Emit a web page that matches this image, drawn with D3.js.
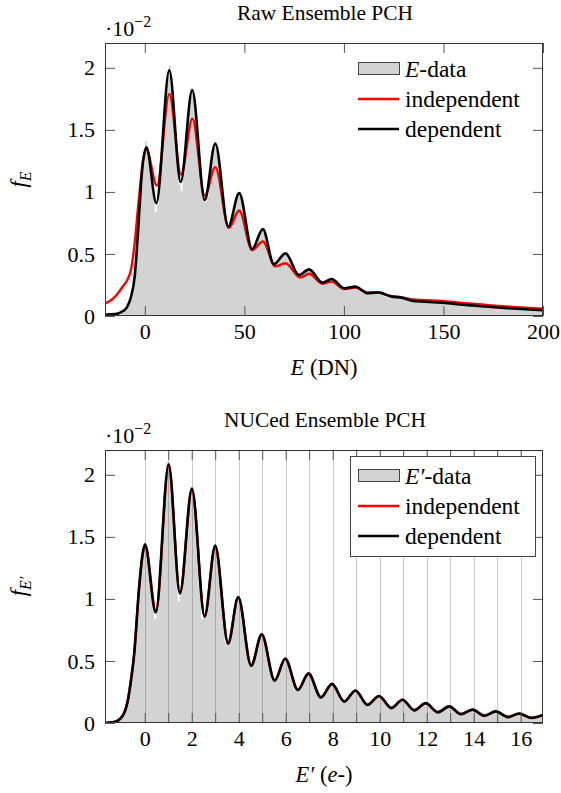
<!DOCTYPE html>
<html lang="en">
<head>
<meta charset="UTF-8">
<script src="https://d3js.org/d3.v7.min.js"></script>
<style>
  body { margin: 0; background: #fff; }
  svg { display: block; font-family: "Liberation Serif", "Times New Roman", serif; }
</style>
</head>
<body>
<svg id="chart" width="561" height="793"></svg>
<script>
// ---- data (values in units of 10^-2) ----
const yTicks = [0, 0.5, 1, 1.5, 2];
const rawXTicks = [0, 50, 100, 150, 200];
const nucXTicks = [0, 1, 2, 3, 4, 5, 6, 7, 8, 9, 10, 11, 12, 13, 14, 15, 16];
const nucXLabels = [0, 2, 4, 6, 8, 10, 12, 14, 16];

// raw histogram, 1 DN bins starting at -12
const rawBinStart = -12, rawBinWidth = 1;
const rawHist = [
  0.03, 0.04, 0.05, 0.07, 0.10, 0.15, 0.23, 0.36, 0.55, 0.80, 1.05, 1.24,
  1.41, 1.34, 1.24, 1.10, 0.98, 0.84, 0.90, 1.05, 1.28, 1.52,
  1.75, 1.93, 2.02, 1.92, 1.68, 1.42, 1.20, 1.06, 1.01, 1.15,
  1.36, 1.56, 1.72, 1.83, 1.80, 1.66, 1.46, 1.24, 1.06, 0.95,
  0.92, 0.96, 1.08, 1.23, 1.35, 1.40, 1.36, 1.24, 1.08, 0.93,
  0.80, 0.73, 0.71, 0.76, 0.84, 0.92, 0.98, 1.00, 0.97, 0.89,
  0.78, 0.67, 0.59, 0.55, 0.53, 0.57, 0.62, 0.67, 0.70, 0.70,
  0.67, 0.61, 0.55, 0.49, 0.44, 0.41, 0.43, 0.46, 0.49, 0.50,
  0.50, 0.49, 0.46, 0.42, 0.38, 0.35, 0.33, 0.32, 0.34, 0.36,
  0.37, 0.375, 0.37, 0.36, 0.34, 0.31, 0.29, 0.28, 0.27, 0.265,
  0.28, 0.29, 0.30, 0.30, 0.29, 0.27, 0.25, 0.24, 0.23, 0.22,
  0.22, 0.23, 0.235, 0.24, 0.235, 0.23, 0.22, 0.21, 0.20, 0.19,
  0.185, 0.182, 0.185, 0.19, 0.19, 0.19, 0.185, 0.18, 0.17, 0.165,
  0.16, 0.158, 0.157, 0.156, 0.155, 0.152, 0.15, 0.148, 0.145, 0.14,
  0.135, 0.13, 0.127, 0.124, 0.122, 0.121, 0.12, 0.119, 0.118, 0.117,
  0.116, 0.115, 0.114, 0.113, 0.112, 0.111, 0.110, 0.109, 0.108, 0.107,
  0.105, 0.104, 0.102, 0.101, 0.099, 0.098, 0.096, 0.095, 0.094, 0.092,
  0.091, 0.090, 0.088, 0.087, 0.086, 0.084, 0.083, 0.082, 0.080, 0.079,
  0.078, 0.076, 0.075, 0.074, 0.072, 0.071, 0.070, 0.069, 0.068, 0.067,
  0.066, 0.064, 0.063, 0.062, 0.061, 0.060, 0.059, 0.058, 0.057, 0.056,
  0.055, 0.054, 0.053, 0.052, 0.051, 0.050, 0.049, 0.048, 0.047, 0.046
];

const rawIndependent = [
  [-20, 0.10], [-16, 0.14], [-13.7, 0.18], [-11, 0.24], [-8.8, 0.29], [-7, 0.37],
  [-5.5, 0.53], [-3, 0.94], [-1, 1.24], [0.8, 1.34], [6.1, 1.05], [12.3, 1.79],
  [18.2, 1.14], [23.9, 1.59], [30.1, 0.97], [35.4, 1.20], [42.2, 0.71], [47.4, 0.85],
  [53.9, 0.53], [59.3, 0.60], [65.5, 0.40], [70.7, 0.425], [78, 0.31], [82.5, 0.34],
  [89.2, 0.26], [93.8, 0.277], [100.2, 0.218], [105.8, 0.23], [112, 0.19], [117, 0.188],
  [124, 0.16], [129, 0.15], [134, 0.134], [141, 0.128], [149, 0.121], [157, 0.109],
  [166, 0.097], [174, 0.086], [183, 0.075], [191, 0.067], [200, 0.059]
];

const rawDependent = [
  [-20, 0.01], [-15, 0.015], [-12, 0.03], [-9, 0.07], [-7, 0.15], [-5, 0.33],
  [-3, 0.78], [-1.5, 1.15], [0.8, 1.36], [5.8, 0.91], [12.3, 1.98], [18, 1.08],
  [23.8, 1.82], [30.1, 0.935], [35.4, 1.39], [41.9, 0.72], [47.4, 0.99], [53.9, 0.54],
  [59.3, 0.70], [64.8, 0.417], [70.7, 0.505], [77.4, 0.33], [82.5, 0.376], [89.2, 0.27],
  [93.8, 0.298], [100.2, 0.223], [105.6, 0.237], [112, 0.183], [117, 0.19], [124, 0.156],
  [129, 0.148], [134, 0.124], [141, 0.115], [149, 0.107], [157, 0.095], [166, 0.083],
  [174, 0.072], [183, 0.062], [191, 0.054], [200, 0.046]
];

// NUCed histogram, 0.1 e- bins starting at -1.6
const nucBinStart = -1.6, nucBinWidth = 0.1;
const nucHist = [
  0.002, 0.004, 0.007, 0.012, 0.02, 0.035, 0.06, 0.10, 0.16, 0.26, 0.40, 0.56, 0.80, 1.07, 1.28, 1.41,
  1.43, 1.33, 1.17, 1.00, 0.84, 0.92, 1.14, 1.49, 1.84, 2.10,
  2.06, 1.87, 1.56, 1.26, 0.98, 1.06, 1.22, 1.47, 1.72, 1.87,
  1.87, 1.68, 1.37, 1.07, 0.84, 0.87, 0.97, 1.14, 1.31, 1.42,
  1.41, 1.27, 1.04, 0.80, 0.65, 0.65, 0.72, 0.83, 0.94, 1.01,
  1.00, 0.90, 0.74, 0.57, 0.47, 0.47, 0.51, 0.59, 0.66, 0.71,
  0.71, 0.64, 0.53, 0.42, 0.35, 0.34, 0.38, 0.43, 0.48, 0.52,
  0.51, 0.47, 0.39, 0.32, 0.27, 0.27, 0.29, 0.33, 0.37, 0.40,
  0.40, 0.36, 0.30, 0.245, 0.21, 0.21, 0.23, 0.26, 0.29, 0.31,
  0.31, 0.29, 0.244, 0.20, 0.175, 0.174, 0.19, 0.217, 0.243, 0.26,
  0.26, 0.238, 0.204, 0.169, 0.148, 0.147, 0.16, 0.182, 0.203, 0.216,
  0.216, 0.198, 0.169, 0.14, 0.122, 0.122, 0.134, 0.154, 0.173, 0.185,
  0.185, 0.169, 0.145, 0.12, 0.104, 0.103, 0.114, 0.131, 0.148, 0.159,
  0.158, 0.145, 0.123, 0.101, 0.088, 0.087, 0.096, 0.11, 0.124, 0.133,
  0.132, 0.121, 0.102, 0.083, 0.072, 0.071, 0.078, 0.089, 0.10, 0.107,
  0.107, 0.098, 0.083, 0.068, 0.059, 0.059, 0.065, 0.076, 0.087, 0.093,
  0.093, 0.084, 0.071, 0.057, 0.048, 0.048, 0.053, 0.062, 0.07, 0.075,
  0.075, 0.069, 0.058, 0.047, 0.041, 0.041, 0.046, 0.053, 0.06, 0.065
];

const nucIndependent = [
  [-1.7, 0.0], [-1.3, 0.009], [-1.02, 0.04], [-0.85, 0.095], [-0.73, 0.175], [-0.6, 0.33],
  [-0.45, 0.56], [-0.24, 1.08], [-0.1, 1.34], [0.02, 1.43], [0.48, 0.9], [1.02, 2.07],
  [1.5, 1.05], [2.01, 1.88], [2.55, 0.865], [3.0, 1.42], [3.55, 0.65], [3.98, 1.01],
  [4.53, 0.465], [4.98, 0.71], [5.53, 0.345], [5.98, 0.515], [6.52, 0.27], [6.97, 0.395],
  [7.5, 0.21], [7.97, 0.312], [8.49, 0.175], [8.97, 0.26], [9.48, 0.148], [9.97, 0.216],
  [10.5, 0.123], [10.97, 0.186], [11.47, 0.105], [11.96, 0.159], [12.47, 0.089], [12.96, 0.133],
  [13.46, 0.073], [13.95, 0.107], [14.45, 0.061], [14.94, 0.093], [15.46, 0.05], [15.93, 0.075],
  [16.46, 0.043], [16.95, 0.066]
];

const nucDependent = [
  [-1.7, 0.0], [-1.3, 0.008], [-1.02, 0.038], [-0.85, 0.09], [-0.73, 0.17], [-0.6, 0.32],
  [-0.45, 0.55], [-0.24, 1.09], [-0.1, 1.35], [0.01, 1.44], [0.47, 0.89], [1.02, 2.085],
  [1.5, 1.045], [2.01, 1.89], [2.55, 0.857], [3.0, 1.43], [3.55, 0.64], [3.98, 1.015],
  [4.53, 0.46], [4.98, 0.715], [5.53, 0.34], [5.98, 0.52], [6.52, 0.266], [6.97, 0.40],
  [7.5, 0.205], [7.97, 0.315], [8.49, 0.172], [8.97, 0.262], [9.48, 0.145], [9.97, 0.218],
  [10.5, 0.12], [10.97, 0.187], [11.47, 0.102], [11.96, 0.16], [12.47, 0.086], [12.96, 0.134],
  [13.46, 0.07], [13.95, 0.108], [14.45, 0.058], [14.94, 0.094], [15.46, 0.047], [15.93, 0.076],
  [16.46, 0.04], [16.95, 0.065]
];

const svg = d3.select("#chart");
const FONT = "'Liberation Serif', 'Times New Roman', serif";

function drawPanel(p) {
  const x = d3.scaleLinear().domain(p.xDomain).range([p.left, p.right]);
  const y = d3.scaleLinear().domain([0, 2.2]).range([p.bottom, p.top]);
  const g = svg.append("g");

  const clipId = "clip-" + p.id;
  g.append("clipPath").attr("id", clipId)
    .append("rect")
    .attr("x", p.left).attr("y", p.top)
    .attr("width", p.right - p.left).attr("height", p.bottom - p.top);

  const plot = g.append("g").attr("clip-path", `url(#${clipId})`);

  // histogram: bins as one stepped area so neighbouring bars have no seams
  const steps = p.hist.map((v, i) => [p.binStart + i * p.binWidth, v]);
  steps.push([p.binStart + p.hist.length * p.binWidth, p.hist[p.hist.length - 1]]);
  const histArea = d3.area()
    .x(d => x(d[0])).y0(y(0)).y1(d => y(d[1]))
    .curve(d3.curveStepAfter);
  plot.append("path").datum(steps)
    .attr("d", histArea)
    .attr("fill", "#d3d3d3");

  // vertical grid
  if (p.grid) {
    plot.append("g").selectAll("line")
      .data(p.xTicks)
      .enter().append("line")
      .attr("x1", d => Math.round(x(d)) + 0.5).attr("x2", d => Math.round(x(d)) + 0.5)
      .attr("y1", p.top).attr("y2", p.bottom)
      .attr("stroke", "#000").attr("stroke-opacity", 0.2).attr("stroke-width", 1);
  }

  const line = d3.line().x(d => x(d[0])).y(d => y(d[1])).curve(d3.curveMonotoneX);

  plot.append("path").datum(p.independent)
    .attr("d", line).attr("fill", "none")
    .attr("stroke", "#ff0000").attr("stroke-width", 2.4);
  plot.append("path").datum(p.dependent)
    .attr("d", line).attr("fill", "none")
    .attr("stroke", "#000").attr("stroke-width", 2.6);

  // axes, ticks pointing inward on all four sides
  const styleAxis = sel => {
    sel.attr("font-size", 22).attr("font-family", FONT);
    sel.select(".domain").remove();
    sel.selectAll(".tick line").attr("stroke", "#555");
    sel.selectAll(".tick text").attr("fill", "#000");
  };

  g.append("g")
    .attr("transform", `translate(0,${p.bottom})`)
    .call(d3.axisBottom(x).tickValues(p.xTicks).tickSize(-10).tickPadding(7)
      .tickFormat(d => p.xLabels.includes(d) ? d : ""))
    .call(styleAxis);
  g.append("g")
    .attr("transform", `translate(0,${p.top})`)
    .call(d3.axisTop(x).tickValues(p.xTicks).tickSize(-10).tickFormat(""))
    .call(styleAxis);
  g.append("g")
    .attr("transform", `translate(${p.left},0)`)
    .call(d3.axisLeft(y).tickValues(yTicks).tickSize(-10).tickPadding(10).tickFormat(d3.format("")))
    .call(styleAxis);
  g.append("g")
    .attr("transform", `translate(${p.right},0)`)
    .call(d3.axisRight(y).tickValues(yTicks).tickSize(-10).tickFormat(""))
    .call(styleAxis);

  // frame
  g.append("rect")
    .attr("x", p.left + 0.5).attr("y", p.top + 0.5)
    .attr("width", p.right - p.left - 1).attr("height", p.bottom - p.top - 1)
    .attr("fill", "none").attr("stroke", "#333").attr("stroke-width", 1);

  // title
  g.append("text")
    .attr("x", (p.left + p.right) / 2 + 1).attr("y", p.top - 23)
    .attr("text-anchor", "middle").attr("font-family", FONT).attr("font-size", 21.4)
    .text(p.title);

  // scale note ·10^-2
  const sc = g.append("text")
    .attr("x", p.left).attr("y", p.top - 7)
    .attr("font-family", FONT).attr("font-size", 22);
  sc.append("tspan").text("\u00b710");
  sc.append("tspan").attr("dy", -9).attr("font-size", 16).text("\u22122");

  // y label
  const yl = g.append("text")
    .attr("transform", `translate(26,${(p.top + p.bottom) / 2}) rotate(-90)`)
    .attr("text-anchor", "middle").attr("font-family", FONT).attr("font-size", 23);
  yl.append("tspan").attr("font-style", "italic").text("f");
  yl.append("tspan").attr("font-style", "italic").attr("font-size", 16).attr("dy", 5).text(p.ySub);

  // x label
  const xl = g.append("text")
    .attr("x", (p.left + p.right) / 2).attr("y", p.bottom + 59)
    .attr("text-anchor", "middle").attr("font-family", FONT).attr("font-size", 22.5);
  p.xLabel.forEach(s => {
    xl.append("tspan").attr("font-style", s.italic ? "italic" : null).text(s.t);
  });

  // legend
  const lg = g.append("g");
  if (p.legendBox) {
    lg.append("rect")
      .attr("x", p.legendBox[0] + 0.5).attr("y", p.legendBox[1] + 0.5)
      .attr("width", p.legendBox[2]).attr("height", p.legendBox[3])
      .attr("fill", "#fff").attr("stroke", "#444").attr("stroke-width", 1);
  }
  const lx = p.legendX, rows = [p.top + 26, p.top + 56, p.top + 86];
  lg.append("rect")
    .attr("x", lx + 0.5).attr("y", rows[0] - 6.5)
    .attr("width", 41).attr("height", 12)
    .attr("fill", "#d3d3d3").attr("stroke", "#444").attr("stroke-width", 1);
  lg.append("line").attr("x1", lx).attr("x2", lx + 41).attr("y1", rows[1]).attr("y2", rows[1])
    .attr("stroke", "#ff0000").attr("stroke-width", 2.4);
  lg.append("line").attr("x1", lx).attr("x2", lx + 41).attr("y1", rows[2]).attr("y2", rows[2])
    .attr("stroke", "#000").attr("stroke-width", 2.6);
  const labels = [p.dataLabel, [{ t: "independent" }], [{ t: "dependent" }]];
  labels.forEach((parts, i) => {
    const t = lg.append("text")
      .attr("x", lx + 47).attr("y", rows[i] + 7.5)
      .attr("font-family", FONT).attr("font-size", 23.5);
    parts.forEach(s => t.append("tspan").attr("font-style", s.italic ? "italic" : null).text(s.t));
  });
}

drawPanel({
  id: "raw", left: 105, right: 543, top: 43, bottom: 316,
  xDomain: [-20, 200], xTicks: rawXTicks, xLabels: rawXTicks,
  hist: rawHist, binStart: rawBinStart, binWidth: rawBinWidth,
  independent: rawIndependent, dependent: rawDependent,
  grid: false, title: "Raw Ensemble PCH", ySub: "E",
  xLabel: [{ t: "E", italic: true }, { t: " (DN)" }],
  dataLabel: [{ t: "E", italic: true }, { t: "-data" }],
  legendX: 358, legendBox: null
});

drawPanel({
  id: "nuc", left: 105, right: 543, top: 450, bottom: 723,
  xDomain: [-1.69, 16.95], xTicks: nucXTicks, xLabels: nucXLabels,
  hist: nucHist, binStart: nucBinStart, binWidth: nucBinWidth,
  independent: nucIndependent, dependent: nucDependent,
  grid: true, title: "NUCed Ensemble PCH", ySub: "E\u2032",
  xLabel: [{ t: "E\u2032", italic: true }, { t: " (" }, { t: "e", italic: true }, { t: "-)" }],
  dataLabel: [{ t: "E\u2032", italic: true }, { t: "-data" }],
  legendX: 358, legendBox: [350, 456, 185, 100]
});
</script>
</body>
</html>
